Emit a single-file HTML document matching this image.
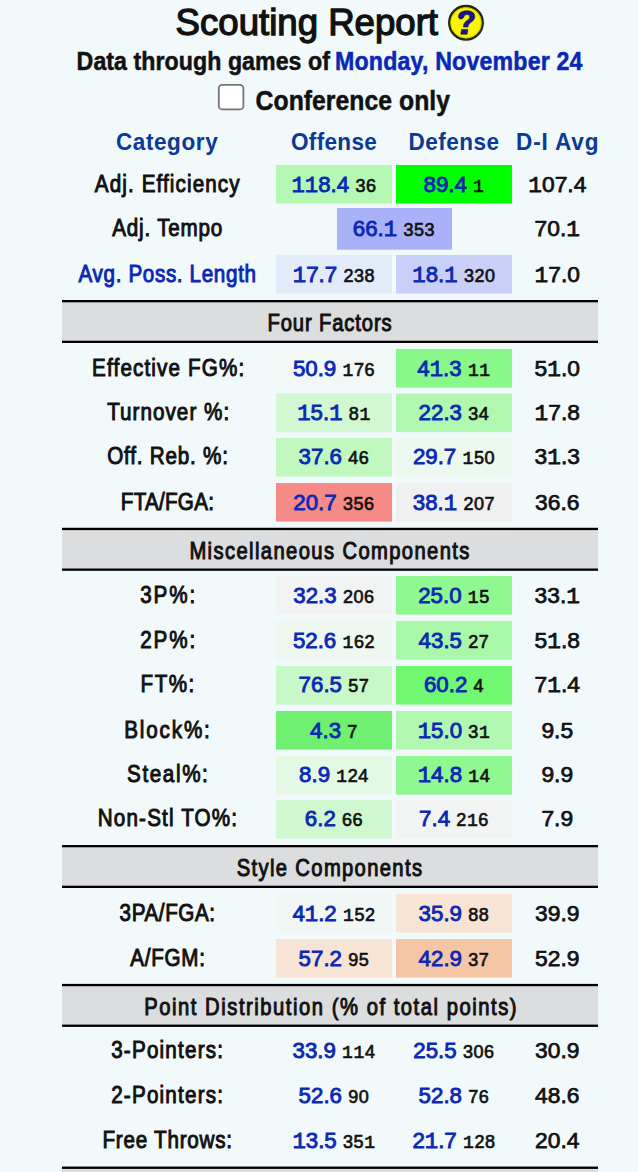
<!DOCTYPE html>
<html><head><meta charset="utf-8">
<style>
html,body{margin:0;padding:0;background:#F1F9FB;width:638px;height:1172px;overflow:hidden;}
svg{display:block;font-family:"Liberation Sans",sans-serif;}
</style></head>
<body>
<svg width="638" height="1172" viewBox="0 0 638 1172">
<text x="306.80" y="35.0" font-size="36" font-weight="400" fill="#111111" text-anchor="middle" textLength="262.40" lengthAdjust="spacingAndGlyphs" stroke="#111111" stroke-width="1.3">Scouting Report</text>
<circle cx="466" cy="22.8" r="16.8" fill="#FAF600" stroke="#26260A" stroke-width="2.3"/>
<circle cx="466" cy="22.8" r="15.2" fill="none" stroke="#B8B410" stroke-width="1" opacity="0.6"/>
<path d="M458.5 16.8 C458.5 12.2 462.8 10.8 467 10.8 C472 10.8 474.8 13 474.8 16.5 C474.8 20.5 471 22 469.6 23.4 C468.6 24.4 468.1 25.5 467.9 27 L463.4 27 C463.4 24.4 464.4 22.4 466.4 21 C468.4 19.6 469.8 18.6 469.8 16.9 C469.8 15.3 468.6 14.6 467 14.6 C465.2 14.6 464.2 15.6 463.8 17.2 C463 18.6 461.8 19 460.8 19 C459.5 19 458.5 18.2 458.5 16.8 Z M461.6 29.4 L467.9 29.4 L467.1 34.2 L460.8 34.2 Z" fill="#1E148C" stroke="#10105A" stroke-width="0.6"/>
<text transform="translate(203.30 69.8) scale(0.92 1)" font-size="25.2" font-weight="700" fill="#111111" text-anchor="middle" textLength="275.43" lengthAdjust="spacing" stroke="#111111" stroke-width="0.5">Data through games of</text>
<text transform="translate(458.74 69.8) scale(0.92 1)" font-size="25.2" font-weight="700" fill="#0A28B4" text-anchor="middle" textLength="269.00" lengthAdjust="spacing" stroke="#0A28B4" stroke-width="0.5">Monday, November 24</text>
<rect x="218.8" y="84.8" width="24.6" height="24.6" rx="3.5" fill="#FFFFFF" stroke="#767676" stroke-width="1.8"/>
<text transform="translate(352.78 109.6) scale(0.9 1)" font-size="27.5" font-weight="700" fill="#111111" text-anchor="middle" textLength="216.04" lengthAdjust="spacing" stroke="#111111" stroke-width="0.5">Conference only</text>
<text transform="translate(166.81 150.4) scale(0.92 1)" font-size="24.5" font-weight="700" fill="#0A3A96" text-anchor="middle" textLength="110.67" lengthAdjust="spacing">Category</text>
<text transform="translate(333.89 150.4) scale(0.92 1)" font-size="24.5" font-weight="700" fill="#0A3A96" text-anchor="middle" textLength="93.46" lengthAdjust="spacing">Offense</text>
<text transform="translate(453.75 150.4) scale(0.92 1)" font-size="24.5" font-weight="700" fill="#0A3A96" text-anchor="middle" textLength="98.37" lengthAdjust="spacing">Defense</text>
<text transform="translate(557.28 150.4) scale(0.92 1)" font-size="24.5" font-weight="700" fill="#0A3A96" text-anchor="middle" textLength="89.57" lengthAdjust="spacing">D-I Avg</text>
<rect x="276" y="165" width="116" height="38.6" fill="#B4F8B4" />
<rect x="396" y="165" width="116" height="38.6" fill="#00FF00" />
<text transform="translate(167.19 191.7) scale(0.86 1)" font-size="24" font-weight="400" fill="#111111" text-anchor="middle" textLength="168.30" lengthAdjust="spacing" stroke="#111111" stroke-width="1.0">Adj. Efficiency</text>
<text x="334.0" y="191.7" text-anchor="middle" font-size="22.3" font-weight="400" fill="#0A28B4" stroke="#0A28B4" stroke-width="0.85"><tspan font-family="Liberation Mono">1</tspan><tspan font-family="Liberation Mono">1</tspan>8.4 <tspan font-size="18" fill="#111111" stroke="#111111" stroke-width="0.65" letter-spacing="0.6">36</tspan></text>
<text x="454.0" y="191.7" text-anchor="middle" font-size="22.3" font-weight="400" fill="#0A28B4" stroke="#0A28B4" stroke-width="0.85">89.4 <tspan font-size="18" fill="#111111" stroke="#111111" stroke-width="0.65" letter-spacing="0.6"><tspan font-family="Liberation Mono">1</tspan></tspan></text>
<text x="557.3" y="191.7" font-size="22.8" font-weight="400" fill="#111111" text-anchor="middle" stroke="#111111" stroke-width="0.75"><tspan font-family="Liberation Mono">1</tspan>07.4</text>
<rect x="337" y="208" width="115" height="41.7" fill="#A9B1F9" />
<text transform="translate(167.27 236.3) scale(0.86 1)" font-size="24" font-weight="400" fill="#111111" text-anchor="middle" textLength="127.93" lengthAdjust="spacing" stroke="#111111" stroke-width="1.0">Adj. Tempo</text>
<text x="394" y="236.3" text-anchor="middle" font-size="22.3" font-weight="400" fill="#0A28B4" stroke="#0A28B4" stroke-width="0.85">66.<tspan font-family="Liberation Mono">1</tspan> <tspan font-size="18" fill="#111111" stroke="#111111" stroke-width="0.65" letter-spacing="0.6">353</tspan></text>
<text x="557.3" y="236.3" font-size="22.8" font-weight="400" fill="#111111" text-anchor="middle" stroke="#111111" stroke-width="0.75">70.<tspan font-family="Liberation Mono">1</tspan></text>
<rect x="276" y="255" width="116" height="38.6" fill="#E2EBFA" />
<rect x="396" y="255" width="116" height="38.6" fill="#C9D0F8" />
<text transform="translate(167.24 281.6) scale(0.86 1)" font-size="24" font-weight="400" fill="#0A28B4" text-anchor="middle" textLength="206.42" lengthAdjust="spacing" stroke="#0A28B4" stroke-width="1.0">Avg. Poss. Length</text>
<text x="334.0" y="281.6" text-anchor="middle" font-size="22.3" font-weight="400" fill="#0A28B4" stroke="#0A28B4" stroke-width="0.85"><tspan font-family="Liberation Mono">1</tspan>7.7 <tspan font-size="18" fill="#111111" stroke="#111111" stroke-width="0.65" letter-spacing="0.6">238</tspan></text>
<text x="454.0" y="281.6" text-anchor="middle" font-size="22.3" font-weight="400" fill="#0A28B4" stroke="#0A28B4" stroke-width="0.85"><tspan font-family="Liberation Mono">1</tspan>8.<tspan font-family="Liberation Mono">1</tspan> <tspan font-size="18" fill="#111111" stroke="#111111" stroke-width="0.65" letter-spacing="0.6">320</tspan></text>
<text x="557.3" y="281.6" font-size="22.8" font-weight="400" fill="#111111" text-anchor="middle" stroke="#111111" stroke-width="0.75"><tspan font-family="Liberation Mono">1</tspan>7.0</text>
<rect x="62" y="300" width="536" height="43" fill="#DBDDDE" />
<rect x="62" y="300" width="536" height="2.3" fill="#000" />
<rect x="62" y="340.7" width="536" height="2.3" fill="#000" />
<text transform="translate(329.56 330.9) scale(0.86 1)" font-size="23.5" font-weight="400" fill="#111111" text-anchor="middle" textLength="144.47" lengthAdjust="spacing" stroke="#111111" stroke-width="1.0">Four Factors</text>
<rect x="276" y="349" width="116" height="38.6" fill="#F1F8F6" />
<rect x="396" y="349" width="116" height="38.6" fill="#88F888" />
<text transform="translate(168.11 375.5) scale(0.86 1)" font-size="24" font-weight="400" fill="#111111" text-anchor="middle" textLength="176.77" lengthAdjust="spacing" stroke="#111111" stroke-width="1.0">Effective FG%:</text>
<text x="334.0" y="375.5" text-anchor="middle" font-size="22.3" font-weight="400" fill="#0A28B4" stroke="#0A28B4" stroke-width="0.85">50.9 <tspan font-size="18" fill="#111111" stroke="#111111" stroke-width="0.65" letter-spacing="0.6"><tspan font-family="Liberation Mono">1</tspan>76</tspan></text>
<text x="454.0" y="375.5" text-anchor="middle" font-size="22.3" font-weight="400" fill="#0A28B4" stroke="#0A28B4" stroke-width="0.85">4<tspan font-family="Liberation Mono">1</tspan>.3 <tspan font-size="18" fill="#111111" stroke="#111111" stroke-width="0.65" letter-spacing="0.6"><tspan font-family="Liberation Mono">1</tspan><tspan font-family="Liberation Mono">1</tspan></tspan></text>
<text x="557.3" y="375.5" font-size="22.8" font-weight="400" fill="#111111" text-anchor="middle" stroke="#111111" stroke-width="0.75">5<tspan font-family="Liberation Mono">1</tspan>.0</text>
<rect x="276" y="393.5" width="116" height="38.6" fill="#D2F8D2" />
<rect x="396" y="393.5" width="116" height="38.6" fill="#B0F8B0" />
<text transform="translate(168.20 419.8) scale(0.86 1)" font-size="24" font-weight="400" fill="#111111" text-anchor="middle" textLength="141.81" lengthAdjust="spacing" stroke="#111111" stroke-width="1.0">Turnover %:</text>
<text x="334.0" y="419.8" text-anchor="middle" font-size="22.3" font-weight="400" fill="#0A28B4" stroke="#0A28B4" stroke-width="0.85"><tspan font-family="Liberation Mono">1</tspan>5.<tspan font-family="Liberation Mono">1</tspan> <tspan font-size="18" fill="#111111" stroke="#111111" stroke-width="0.65" letter-spacing="0.6">8<tspan font-family="Liberation Mono">1</tspan></tspan></text>
<text x="454.0" y="419.8" text-anchor="middle" font-size="22.3" font-weight="400" fill="#0A28B4" stroke="#0A28B4" stroke-width="0.85">22.3 <tspan font-size="18" fill="#111111" stroke="#111111" stroke-width="0.65" letter-spacing="0.6">34</tspan></text>
<text x="557.3" y="419.8" font-size="22.8" font-weight="400" fill="#111111" text-anchor="middle" stroke="#111111" stroke-width="0.75"><tspan font-family="Liberation Mono">1</tspan>7.8</text>
<rect x="276" y="438" width="116" height="38.6" fill="#C0F8C0" />
<rect x="396" y="438" width="116" height="38.6" fill="#EDF8EF" />
<text transform="translate(167.62 464.4) scale(0.86 1)" font-size="24" font-weight="400" fill="#111111" text-anchor="middle" textLength="140.47" lengthAdjust="spacing" stroke="#111111" stroke-width="1.0">Off. Reb. %:</text>
<text x="334.0" y="464.4" text-anchor="middle" font-size="22.3" font-weight="400" fill="#0A28B4" stroke="#0A28B4" stroke-width="0.85">37.6 <tspan font-size="18" fill="#111111" stroke="#111111" stroke-width="0.65" letter-spacing="0.6">46</tspan></text>
<text x="454.0" y="464.4" text-anchor="middle" font-size="22.3" font-weight="400" fill="#0A28B4" stroke="#0A28B4" stroke-width="0.85">29.7 <tspan font-size="18" fill="#111111" stroke="#111111" stroke-width="0.65" letter-spacing="0.6"><tspan font-family="Liberation Mono">1</tspan>50</tspan></text>
<text x="557.3" y="464.4" font-size="22.8" font-weight="400" fill="#111111" text-anchor="middle" stroke="#111111" stroke-width="0.75">3<tspan font-family="Liberation Mono">1</tspan>.3</text>
<rect x="276" y="483" width="116" height="38.6" fill="#F58A86" />
<rect x="396" y="483" width="116" height="38.6" fill="#F1F0F0" />
<text transform="translate(167.37 509.5) scale(0.86 1)" font-size="24" font-weight="400" fill="#111111" text-anchor="middle" textLength="108.35" lengthAdjust="spacing" stroke="#111111" stroke-width="1.0">FTA/FGA:</text>
<text x="334.0" y="509.5" text-anchor="middle" font-size="22.3" font-weight="400" fill="#0A28B4" stroke="#0A28B4" stroke-width="0.85">20.7 <tspan font-size="18" fill="#111111" stroke="#111111" stroke-width="0.65" letter-spacing="0.6">356</tspan></text>
<text x="454.0" y="509.5" text-anchor="middle" font-size="22.3" font-weight="400" fill="#0A28B4" stroke="#0A28B4" stroke-width="0.85">38.<tspan font-family="Liberation Mono">1</tspan> <tspan font-size="18" fill="#111111" stroke="#111111" stroke-width="0.65" letter-spacing="0.6">207</tspan></text>
<text x="557.3" y="509.5" font-size="22.8" font-weight="400" fill="#111111" text-anchor="middle" stroke="#111111" stroke-width="0.75">36.6</text>
<rect x="62" y="527.8" width="536" height="43" fill="#DBDDDE" />
<rect x="62" y="527.8" width="536" height="2.3" fill="#000" />
<rect x="62" y="568.5" width="536" height="2.3" fill="#000" />
<text transform="translate(329.42 558.7) scale(0.86 1)" font-size="23.5" font-weight="400" fill="#111111" text-anchor="middle" textLength="325.67" lengthAdjust="spacing" stroke="#111111" stroke-width="1.0">Miscellaneous Components</text>
<rect x="276" y="576" width="116" height="38.6" fill="#F2F4F4" />
<rect x="396" y="576" width="116" height="38.6" fill="#90F890" />
<text transform="translate(167.73 603.2) scale(0.86 1)" font-size="24" font-weight="400" fill="#111111" text-anchor="middle" textLength="63.98" lengthAdjust="spacing" stroke="#111111" stroke-width="1.0">3P%:</text>
<text x="334.0" y="603.2" text-anchor="middle" font-size="22.3" font-weight="400" fill="#0A28B4" stroke="#0A28B4" stroke-width="0.85">32.3 <tspan font-size="18" fill="#111111" stroke="#111111" stroke-width="0.65" letter-spacing="0.6">206</tspan></text>
<text x="454.0" y="603.2" text-anchor="middle" font-size="22.3" font-weight="400" fill="#0A28B4" stroke="#0A28B4" stroke-width="0.85">25.0 <tspan font-size="18" fill="#111111" stroke="#111111" stroke-width="0.65" letter-spacing="0.6"><tspan font-family="Liberation Mono">1</tspan>5</tspan></text>
<text x="557.3" y="603.2" font-size="22.8" font-weight="400" fill="#111111" text-anchor="middle" stroke="#111111" stroke-width="0.75">33.<tspan font-family="Liberation Mono">1</tspan></text>
<rect x="276" y="621" width="116" height="38.6" fill="#EFF7F1" />
<rect x="396" y="621" width="116" height="38.6" fill="#A8F8A8" />
<text transform="translate(167.73 647.8) scale(0.86 1)" font-size="24" font-weight="400" fill="#111111" text-anchor="middle" textLength="63.98" lengthAdjust="spacing" stroke="#111111" stroke-width="1.0">2P%:</text>
<text x="334.0" y="647.8" text-anchor="middle" font-size="22.3" font-weight="400" fill="#0A28B4" stroke="#0A28B4" stroke-width="0.85">52.6 <tspan font-size="18" fill="#111111" stroke="#111111" stroke-width="0.65" letter-spacing="0.6"><tspan font-family="Liberation Mono">1</tspan>62</tspan></text>
<text x="454.0" y="647.8" text-anchor="middle" font-size="22.3" font-weight="400" fill="#0A28B4" stroke="#0A28B4" stroke-width="0.85">43.5 <tspan font-size="18" fill="#111111" stroke="#111111" stroke-width="0.65" letter-spacing="0.6">27</tspan></text>
<text x="557.3" y="647.8" font-size="22.8" font-weight="400" fill="#111111" text-anchor="middle" stroke="#111111" stroke-width="0.75">5<tspan font-family="Liberation Mono">1</tspan>.8</text>
<rect x="276" y="666" width="116" height="38.6" fill="#C8F8C8" />
<rect x="396" y="666" width="116" height="38.6" fill="#70F870" />
<text transform="translate(167.39 692.1) scale(0.86 1)" font-size="24" font-weight="400" fill="#111111" text-anchor="middle" textLength="62.30" lengthAdjust="spacing" stroke="#111111" stroke-width="1.0">FT%:</text>
<text x="334.0" y="692.1" text-anchor="middle" font-size="22.3" font-weight="400" fill="#0A28B4" stroke="#0A28B4" stroke-width="0.85">76.5 <tspan font-size="18" fill="#111111" stroke="#111111" stroke-width="0.65" letter-spacing="0.6">57</tspan></text>
<text x="454.0" y="692.1" text-anchor="middle" font-size="22.3" font-weight="400" fill="#0A28B4" stroke="#0A28B4" stroke-width="0.85">60.2 <tspan font-size="18" fill="#111111" stroke="#111111" stroke-width="0.65" letter-spacing="0.6">4</tspan></text>
<text x="557.3" y="692.1" font-size="22.8" font-weight="400" fill="#111111" text-anchor="middle" stroke="#111111" stroke-width="0.75">7<tspan font-family="Liberation Mono">1</tspan>.4</text>
<rect x="276" y="711" width="116" height="38.6" fill="#70F070" />
<rect x="396" y="711" width="116" height="38.6" fill="#B0F8B0" />
<text transform="translate(167.03 738.1) scale(0.86 1)" font-size="24" font-weight="400" fill="#111111" text-anchor="middle" textLength="99.56" lengthAdjust="spacing" stroke="#111111" stroke-width="1.0">Block%:</text>
<text x="334.0" y="738.1" text-anchor="middle" font-size="22.3" font-weight="400" fill="#0A28B4" stroke="#0A28B4" stroke-width="0.85">4.3 <tspan font-size="18" fill="#111111" stroke="#111111" stroke-width="0.65" letter-spacing="0.6">7</tspan></text>
<text x="454.0" y="738.1" text-anchor="middle" font-size="22.3" font-weight="400" fill="#0A28B4" stroke="#0A28B4" stroke-width="0.85"><tspan font-family="Liberation Mono">1</tspan>5.0 <tspan font-size="18" fill="#111111" stroke="#111111" stroke-width="0.65" letter-spacing="0.6">3<tspan font-family="Liberation Mono">1</tspan></tspan></text>
<text x="557.3" y="738.1" font-size="22.8" font-weight="400" fill="#111111" text-anchor="middle" stroke="#111111" stroke-width="0.75">9.5</text>
<rect x="276" y="756" width="116" height="38.6" fill="#E4F8E4" />
<rect x="396" y="756" width="116" height="38.6" fill="#90F890" />
<text transform="translate(167.44 782.4) scale(0.86 1)" font-size="24" font-weight="400" fill="#111111" text-anchor="middle" textLength="93.95" lengthAdjust="spacing" stroke="#111111" stroke-width="1.0">Steal%:</text>
<text x="334.0" y="782.4" text-anchor="middle" font-size="22.3" font-weight="400" fill="#0A28B4" stroke="#0A28B4" stroke-width="0.85">8.9 <tspan font-size="18" fill="#111111" stroke="#111111" stroke-width="0.65" letter-spacing="0.6"><tspan font-family="Liberation Mono">1</tspan>24</tspan></text>
<text x="454.0" y="782.4" text-anchor="middle" font-size="22.3" font-weight="400" fill="#0A28B4" stroke="#0A28B4" stroke-width="0.85"><tspan font-family="Liberation Mono">1</tspan>4.8 <tspan font-size="18" fill="#111111" stroke="#111111" stroke-width="0.65" letter-spacing="0.6"><tspan font-family="Liberation Mono">1</tspan>4</tspan></text>
<text x="557.3" y="782.4" font-size="22.8" font-weight="400" fill="#111111" text-anchor="middle" stroke="#111111" stroke-width="0.75">9.9</text>
<rect x="276" y="800" width="116" height="38.6" fill="#D0F8D0" />
<rect x="396" y="800" width="116" height="38.6" fill="#F2F3F3" />
<text transform="translate(167.40 826.1) scale(0.86 1)" font-size="24" font-weight="400" fill="#111111" text-anchor="middle" textLength="162.05" lengthAdjust="spacing" stroke="#111111" stroke-width="1.0">Non-Stl TO%:</text>
<text x="334.0" y="826.1" text-anchor="middle" font-size="22.3" font-weight="400" fill="#0A28B4" stroke="#0A28B4" stroke-width="0.85">6.2 <tspan font-size="18" fill="#111111" stroke="#111111" stroke-width="0.65" letter-spacing="0.6">66</tspan></text>
<text x="454.0" y="826.1" text-anchor="middle" font-size="22.3" font-weight="400" fill="#0A28B4" stroke="#0A28B4" stroke-width="0.85">7.4 <tspan font-size="18" fill="#111111" stroke="#111111" stroke-width="0.65" letter-spacing="0.6">2<tspan font-family="Liberation Mono">1</tspan>6</tspan></text>
<text x="557.3" y="826.1" font-size="22.8" font-weight="400" fill="#111111" text-anchor="middle" stroke="#111111" stroke-width="0.75">7.9</text>
<rect x="62" y="845" width="536" height="43" fill="#DBDDDE" />
<rect x="62" y="845" width="536" height="2.3" fill="#000" />
<rect x="62" y="885.7" width="536" height="2.3" fill="#000" />
<text transform="translate(329.37 875.9) scale(0.86 1)" font-size="23.5" font-weight="400" fill="#111111" text-anchor="middle" textLength="215.47" lengthAdjust="spacing" stroke="#111111" stroke-width="1.0">Style Components</text>
<rect x="276" y="894" width="116" height="38.6" fill="#F1F7F5" />
<rect x="396" y="894" width="116" height="38.6" fill="#F8E4D4" />
<text transform="translate(167.36 920.5) scale(0.86 1)" font-size="24" font-weight="400" fill="#111111" text-anchor="middle" textLength="111.07" lengthAdjust="spacing" stroke="#111111" stroke-width="1.0">3PA/FGA:</text>
<text x="334.0" y="920.5" text-anchor="middle" font-size="22.3" font-weight="400" fill="#0A28B4" stroke="#0A28B4" stroke-width="0.85">4<tspan font-family="Liberation Mono">1</tspan>.2 <tspan font-size="18" fill="#111111" stroke="#111111" stroke-width="0.65" letter-spacing="0.6"><tspan font-family="Liberation Mono">1</tspan>52</tspan></text>
<text x="454.0" y="920.5" text-anchor="middle" font-size="22.3" font-weight="400" fill="#0A28B4" stroke="#0A28B4" stroke-width="0.85">35.9 <tspan font-size="18" fill="#111111" stroke="#111111" stroke-width="0.65" letter-spacing="0.6">88</tspan></text>
<text x="557.3" y="920.5" font-size="22.8" font-weight="400" fill="#111111" text-anchor="middle" stroke="#111111" stroke-width="0.75">39.9</text>
<rect x="276" y="939" width="116" height="38.6" fill="#F8E4D4" />
<rect x="396" y="939" width="116" height="38.6" fill="#F5C6A5" />
<text transform="translate(167.64 965.6) scale(0.86 1)" font-size="24" font-weight="400" fill="#111111" text-anchor="middle" textLength="86.79" lengthAdjust="spacing" stroke="#111111" stroke-width="1.0">A/FGM:</text>
<text x="334.0" y="965.6" text-anchor="middle" font-size="22.3" font-weight="400" fill="#0A28B4" stroke="#0A28B4" stroke-width="0.85">57.2 <tspan font-size="18" fill="#111111" stroke="#111111" stroke-width="0.65" letter-spacing="0.6">95</tspan></text>
<text x="454.0" y="965.6" text-anchor="middle" font-size="22.3" font-weight="400" fill="#0A28B4" stroke="#0A28B4" stroke-width="0.85">42.9 <tspan font-size="18" fill="#111111" stroke="#111111" stroke-width="0.65" letter-spacing="0.6">37</tspan></text>
<text x="557.3" y="965.6" font-size="22.8" font-weight="400" fill="#111111" text-anchor="middle" stroke="#111111" stroke-width="0.75">52.9</text>
<rect x="62" y="983.9" width="536" height="43" fill="#DBDDDE" />
<rect x="62" y="983.9" width="536" height="2.3" fill="#000" />
<rect x="62" y="1024.6" width="536" height="2.3" fill="#000" />
<text transform="translate(330.39 1014.7) scale(0.86 1)" font-size="23.5" font-weight="400" fill="#111111" text-anchor="middle" textLength="432.95" lengthAdjust="spacing" stroke="#111111" stroke-width="1.0">Point Distribution (% of total points)</text>
<text transform="translate(167.06 1057.9) scale(0.86 1)" font-size="24" font-weight="400" fill="#111111" text-anchor="middle" textLength="130.00" lengthAdjust="spacing" stroke="#111111" stroke-width="1.0">3-Pointers:</text>
<text x="334.0" y="1057.9" text-anchor="middle" font-size="22.3" font-weight="400" fill="#0A28B4" stroke="#0A28B4" stroke-width="0.85">33.9 <tspan font-size="18" fill="#111111" stroke="#111111" stroke-width="0.65" letter-spacing="0.6"><tspan font-family="Liberation Mono">1</tspan><tspan font-family="Liberation Mono">1</tspan>4</tspan></text>
<text x="454.0" y="1057.9" text-anchor="middle" font-size="22.3" font-weight="400" fill="#0A28B4" stroke="#0A28B4" stroke-width="0.85">25.5 <tspan font-size="18" fill="#111111" stroke="#111111" stroke-width="0.65" letter-spacing="0.6">306</tspan></text>
<text x="557.3" y="1057.9" font-size="22.8" font-weight="400" fill="#111111" text-anchor="middle" stroke="#111111" stroke-width="0.75">30.9</text>
<text transform="translate(167.06 1103) scale(0.86 1)" font-size="24" font-weight="400" fill="#111111" text-anchor="middle" textLength="130.00" lengthAdjust="spacing" stroke="#111111" stroke-width="1.0">2-Pointers:</text>
<text x="334.0" y="1103" text-anchor="middle" font-size="22.3" font-weight="400" fill="#0A28B4" stroke="#0A28B4" stroke-width="0.85">52.6 <tspan font-size="18" fill="#111111" stroke="#111111" stroke-width="0.65" letter-spacing="0.6">90</tspan></text>
<text x="454.0" y="1103" text-anchor="middle" font-size="22.3" font-weight="400" fill="#0A28B4" stroke="#0A28B4" stroke-width="0.85">52.8 <tspan font-size="18" fill="#111111" stroke="#111111" stroke-width="0.65" letter-spacing="0.6">76</tspan></text>
<text x="557.3" y="1103" font-size="22.8" font-weight="400" fill="#111111" text-anchor="middle" stroke="#111111" stroke-width="0.75">48.6</text>
<text transform="translate(167.23 1148.2) scale(0.86 1)" font-size="24" font-weight="400" fill="#111111" text-anchor="middle" textLength="150.77" lengthAdjust="spacing" stroke="#111111" stroke-width="1.0">Free Throws:</text>
<text x="334.0" y="1148.2" text-anchor="middle" font-size="22.3" font-weight="400" fill="#0A28B4" stroke="#0A28B4" stroke-width="0.85"><tspan font-family="Liberation Mono">1</tspan>3.5 <tspan font-size="18" fill="#111111" stroke="#111111" stroke-width="0.65" letter-spacing="0.6">35<tspan font-family="Liberation Mono">1</tspan></tspan></text>
<text x="454.0" y="1148.2" text-anchor="middle" font-size="22.3" font-weight="400" fill="#0A28B4" stroke="#0A28B4" stroke-width="0.85">2<tspan font-family="Liberation Mono">1</tspan>.7 <tspan font-size="18" fill="#111111" stroke="#111111" stroke-width="0.65" letter-spacing="0.6"><tspan font-family="Liberation Mono">1</tspan>28</tspan></text>
<text x="557.3" y="1148.2" font-size="22.8" font-weight="400" fill="#111111" text-anchor="middle" stroke="#111111" stroke-width="0.75">20.4</text>
<rect x="62" y="1166.6" width="536" height="10" fill="#DBDDDE" />
<rect x="62" y="1166.6" width="536" height="2.3" fill="#000" />
</svg>
</body></html>
